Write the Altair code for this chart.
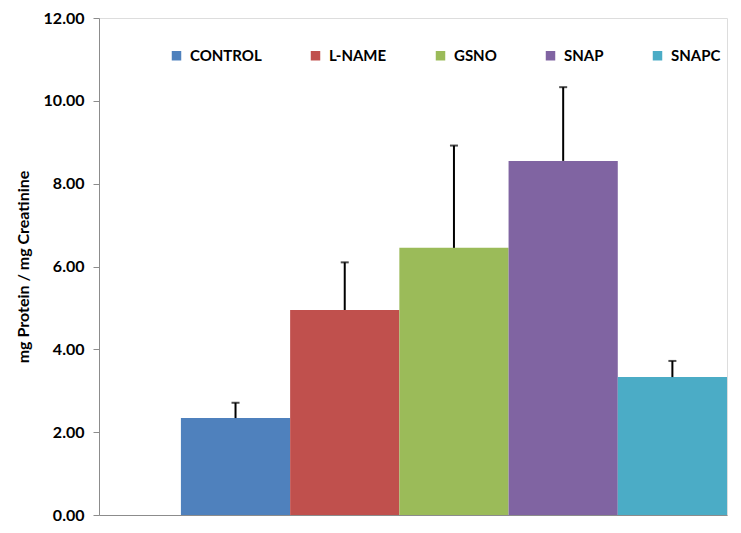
import altair as alt
import pandas as pd

groups = ["CONTROL", "L-NAME", "GSNO", "SNAP", "SNAPC"]
means = [2.34, 4.95, 6.45, 8.55, 3.33]
errors = [0.37, 1.15, 2.47, 1.78, 0.39]
colors = ["#4F81BD", "#C0504D", "#9BBB59", "#8064A2", "#4BACC6"]
y_ticks = [0, 2, 4, 6, 8, 10, 12]

df = pd.DataFrame({
    "group": groups,
    "mean": means,
    "err": errors,
})
df["pos"] = list(range(len(groups)))
df["pos2"] = df["pos"] + 1
df["mid"] = df["pos"] + 0.5
df["upper"] = df["mean"] + df["err"]
df["base"] = 0.0

FONT = "Lato"

xscale = alt.Scale(domain=[-0.75, 5], nice=False, zero=False)
yscale = alt.Scale(domain=[0, 12], nice=False)

color = alt.Color(
    "group:N",
    scale=alt.Scale(domain=groups, range=colors),
    legend=alt.Legend(
        title=None,
        orient="none",
        direction="horizontal",
        legendX=70,
        legendY=30,
        symbolType="square",
        symbolSize=90,
        labelFont=FONT,
        labelFontSize=15,
        labelFontWeight="bold",
        labelColor="#000000",
        columnPadding=46,
        labelOffset=6,
    ),
)

bars = alt.Chart(df).mark_bar(opacity=1).encode(
    x=alt.X("pos:Q", scale=xscale,
            axis=alt.Axis(labels=False, ticks=False, grid=False, title=None,
                          domainColor="#8c8c8c", domainWidth=1)),
    x2="pos2:Q",
    y=alt.Y("mean:Q", scale=yscale,
            axis=alt.Axis(values=y_ticks, format=".2f", grid=False,
                          title="mg Protein / mg Creatinine",
                          titleFont=FONT, titleFontSize=16, titleFontWeight="bold",
                          titleColor="#000000", titlePadding=12,
                          labelFont=FONT, labelFontSize=16, labelFontWeight="bold",
                          labelColor="#000000", labelPadding=9,
                          domainColor="#8c8c8c", tickColor="#8c8c8c", tickSize=6)),
    y2="base:Q",
    color=color,
)

rules = alt.Chart(df).mark_rule(color="#000000", strokeWidth=2).encode(
    x=alt.X("mid:Q", scale=xscale),
    y=alt.Y("mean:Q", scale=yscale),
    y2="upper:Q",
)

caps = alt.Chart(df).mark_tick(color="#000000", orient="horizontal", size=8, thickness=2).encode(
    x=alt.X("mid:Q", scale=xscale),
    y=alt.Y("upper:Q", scale=yscale),
)

chart = alt.layer(bars, rules, caps).properties(
    width=628,
    height=497,
    autosize=alt.AutoSizeParams(type="none"),
    padding={"left": 91, "top": 10, "right": 6, "bottom": 10},
).configure_view(stroke=None).configure(background="white")

chart.save("out.html", embed_options={"renderer": "svg", "actions": False})
